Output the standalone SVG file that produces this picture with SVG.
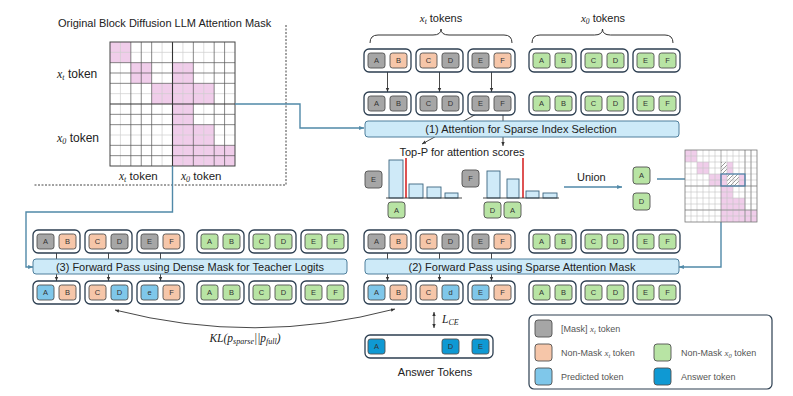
<svg xmlns="http://www.w3.org/2000/svg" width="793" height="396" viewBox="0 0 793 396">
<style>
text{font-family:"Liberation Sans",Arial,sans-serif;fill:#222}
.tt{font-size:7.5px;text-anchor:middle;fill:#333}
.grp{fill:#fff;stroke:#2c3e50;stroke-width:1.3}
.tk{stroke:#505050;stroke-width:0.9}
.g{fill:#a6a6a6}.s{fill:#f6c6a9}.n{fill:#b8e4a4}.p{fill:#7fc7ea}.a{fill:#0f99d3}
.box{fill:#cdeaf8;stroke:#4e7f9c;stroke-width:1}
.bt{font-size:11px;text-anchor:middle;fill:#222}
.con{fill:none;stroke:#5089a8;stroke-width:1.4}
.ar{fill:none;stroke:#333;stroke-width:0.9}
.bar{fill:#cfeaf8;stroke:#3d6680;stroke-width:0.9}
.red{stroke:#d62728;stroke-width:1.6}
.lg{font-size:9px;fill:#555}
.m{font-family:"Liberation Serif","Times New Roman",serif;font-style:italic}
.pk{fill:#f0cdea}
.gl{stroke:#cfcfcf;stroke-width:0.7}
.gd{stroke:#555;stroke-width:0.7}
</style>
<defs>
<marker id="ah" viewBox="0 0 6 6" refX="6" refY="3" markerWidth="4.5" markerHeight="4.5" orient="auto-start-reverse"><path d="M0,0.5 L6,3 L0,5.5 z" fill="#333"/></marker>
<marker id="ahb" viewBox="0 0 6 6" refX="6" refY="3" markerWidth="3.5" markerHeight="3.5" orient="auto-start-reverse"><path d="M0,0.5 L6,3 L0,5.5 z" fill="#5089a8"/></marker>
<pattern id="hatch" patternUnits="userSpaceOnUse" width="4" height="4"><rect width="4" height="4" fill="#fff"/><path d="M-1,1 L1,-1 M0,4 L4,0 M3,5 L5,3" stroke="#555" stroke-width="0.6"/></pattern>
</defs>

<!-- Original mask -->
<g id="orig-mask">
<text x="58" y="27" style="font-size:11px">Original Block Diffusion LLM Attention Mask</text>
<path d="M286,25 V185 H33" fill="none" stroke="#444" stroke-width="1" stroke-dasharray="2,1.5"/>
<rect x="110" y="42" width="125" height="124" fill="#fff"/>
<rect class="pk" x="110" y="42" width="20.83" height="20.67"/>
<rect class="pk" x="130.83" y="62.67" width="20.83" height="20.67"/>
<rect class="pk" x="172.5" y="62.67" width="20.83" height="20.67"/>
<rect class="pk" x="151.67" y="83.33" width="62.5" height="20.67"/>
<rect class="pk" x="172.5" y="104" width="20.83" height="20.67"/>
<rect class="pk" x="172.5" y="124.67" width="41.67" height="20.67"/>
<rect class="pk" x="172.5" y="145.33" width="62.5" height="20.67"/>
<g class="gl">
<line x1="120.42" y1="42" x2="120.42" y2="166"/><line x1="162.08" y1="42" x2="162.08" y2="166"/><line x1="182.92" y1="42" x2="182.92" y2="166"/><line x1="203.75" y1="42" x2="203.75" y2="166"/>
<line x1="110" y1="52.33" x2="235" y2="52.33"/><line x1="110" y1="93.67" x2="235" y2="93.67"/><line x1="110" y1="135" x2="235" y2="135"/>
</g>
<g class="gd">
<line x1="130.83" y1="42" x2="130.83" y2="166"/><line x1="141.25" y1="42" x2="141.25" y2="166"/><line x1="151.67" y1="42" x2="151.67" y2="166"/><line x1="193.33" y1="42" x2="193.33" y2="166"/><line x1="214.17" y1="42" x2="214.17" y2="166"/><line x1="224.58" y1="42" x2="224.58" y2="166"/>
<line x1="110" y1="62.67" x2="235" y2="62.67"/><line x1="110" y1="73" x2="235" y2="73"/><line x1="110" y1="83.33" x2="235" y2="83.33"/><line x1="110" y1="114.33" x2="235" y2="114.33"/><line x1="110" y1="124.67" x2="235" y2="124.67"/><line x1="110" y1="145.33" x2="235" y2="145.33"/><line x1="110" y1="155.67" x2="235" y2="155.67"/>
</g>
<line x1="172.5" y1="42" x2="172.5" y2="166" stroke="#333" stroke-width="1.1"/>
<line x1="110" y1="104" x2="235" y2="104" stroke="#333" stroke-width="1.1"/>
<rect x="110" y="42" width="125" height="124" fill="none" stroke="#444" stroke-width="1"/>
<text x="57" y="78" style="font-size:12px"><tspan class="m">x</tspan><tspan dy="2" style="font-size:8px" class="m">t</tspan><tspan dy="-2"> token</tspan></text>
<text x="57" y="142" style="font-size:12px"><tspan class="m">x</tspan><tspan dy="2" style="font-size:8px" class="m">0</tspan><tspan dy="-2"> token</tspan></text>
<text x="119" y="180" style="font-size:11.5px"><tspan class="m">x</tspan><tspan dy="2" style="font-size:8px" class="m">t</tspan><tspan dy="-2"> token</tspan></text>
<text x="181" y="180" style="font-size:11.5px"><tspan class="m">x</tspan><tspan dy="2" style="font-size:8px" class="m">0</tspan><tspan dy="-2"> token</tspan></text>
</g>

<!-- Connectors -->
<g id="connectors">
<path class="con" d="M235,104 H300 V128 H364" marker-end="url(#ahb)"/>
<path class="con" d="M172.5,166 V212 H26 V267 H33" marker-end="url(#ahb)"/>
<path class="con" d="M721,222 V267 H679" marker-end="url(#ahb)"/>
<path class="con" d="M657,179 H720" marker-end="url(#ahb)"/>
<path class="con" d="M564,187 H622" marker-end="url(#ahb)"/>
<g class="ar">
<line x1="387.5" y1="72" x2="387.5" y2="92" marker-end="url(#ah)"/>
<line x1="439.5" y1="72" x2="439.5" y2="92" marker-end="url(#ah)"/>
<line x1="491.5" y1="72" x2="491.5" y2="92" marker-end="url(#ah)"/>
<line x1="480" y1="112" x2="422" y2="144" marker-end="url(#ah)"/>
<line x1="503" y1="115" x2="503" y2="146" marker-end="url(#ah)"/>
<line x1="56.5" y1="253" x2="56.5" y2="281" marker-end="url(#ah)"/>
<line x1="108.5" y1="253" x2="108.5" y2="281" marker-end="url(#ah)"/>
<line x1="160.5" y1="253" x2="160.5" y2="281" marker-end="url(#ah)"/>
<line x1="387.5" y1="253" x2="387.5" y2="281" marker-end="url(#ah)"/>
<line x1="439.5" y1="253" x2="439.5" y2="281" marker-end="url(#ah)"/>
<line x1="491.5" y1="253" x2="491.5" y2="281" marker-end="url(#ah)"/>
<line x1="434" y1="312" x2="434" y2="328" marker-start="url(#ah)" marker-end="url(#ah)"/>
<path d="M115,310 Q255,346 395,309" marker-start="url(#ah)" marker-end="url(#ah)"/>
</g>
</g>

<!-- Braces and headers -->
<g id="xt-header">
<text x="441" y="22" text-anchor="middle" style="font-size:11px"><tspan class="m">x</tspan><tspan dy="2" style="font-size:7.5px" class="m">t</tspan><tspan dy="-2"> tokens</tspan></text>
<path d="M370,43 Q370,35 378,35 H433 Q441,35 441,29 Q441,35 449,35 H504 Q512,35 512,43" fill="none" stroke="#333" stroke-width="1"/>
</g>
<g id="x0-header">
<text x="603" y="22" text-anchor="middle" style="font-size:11px"><tspan class="m">x</tspan><tspan dy="2" style="font-size:7.5px" class="m">0</tspan><tspan dy="-2"> tokens</tspan></text>
<path d="M532,43 Q532,35 540,35 H594.5 Q602.5,35 602.5,29 Q602.5,35 610.5,35 H665 Q673,35 673,43" fill="none" stroke="#333" stroke-width="1"/>
</g>

<!-- Top row 1 -->
<g id="t1-1"><rect class="grp" x="364" y="49" width="47" height="23" rx="5"/><rect class="tk g" x="368" y="53" width="17" height="15" rx="2.5"/><text class="tt" x="376.5" y="63">A</text><rect class="tk s" x="390" y="53" width="17" height="15" rx="2.5"/><text class="tt" x="398.5" y="63">B</text></g>
<g id="t1-2"><rect class="grp" x="416" y="49" width="47" height="23" rx="5"/><rect class="tk s" x="420" y="53" width="17" height="15" rx="2.5"/><text class="tt" x="428.5" y="63">C</text><rect class="tk g" x="442" y="53" width="17" height="15" rx="2.5"/><text class="tt" x="450.5" y="63">D</text></g>
<g id="t1-3"><rect class="grp" x="468" y="49" width="47" height="23" rx="5"/><rect class="tk g" x="472" y="53" width="17" height="15" rx="2.5"/><text class="tt" x="480.5" y="63">E</text><rect class="tk s" x="494" y="53" width="17" height="15" rx="2.5"/><text class="tt" x="502.5" y="63">F</text></g>
<g id="t1-4"><rect class="grp" x="529" y="49" width="47" height="23" rx="5"/><rect class="tk n" x="533" y="53" width="17" height="15" rx="2.5"/><text class="tt" x="541.5" y="63">A</text><rect class="tk n" x="555" y="53" width="17" height="15" rx="2.5"/><text class="tt" x="563.5" y="63">B</text></g>
<g id="t1-5"><rect class="grp" x="581" y="49" width="47" height="23" rx="5"/><rect class="tk n" x="585" y="53" width="17" height="15" rx="2.5"/><text class="tt" x="593.5" y="63">C</text><rect class="tk n" x="607" y="53" width="17" height="15" rx="2.5"/><text class="tt" x="615.5" y="63">D</text></g>
<g id="t1-6"><rect class="grp" x="633" y="49" width="47" height="23" rx="5"/><rect class="tk n" x="637" y="53" width="17" height="15" rx="2.5"/><text class="tt" x="645.5" y="63">E</text><rect class="tk n" x="659" y="53" width="17" height="15" rx="2.5"/><text class="tt" x="667.5" y="63">F</text></g>

<!-- Top row 2 -->
<g id="t2-1"><rect class="grp" x="364" y="92" width="47" height="23" rx="5"/><rect class="tk g" x="368" y="96" width="17" height="15" rx="2.5"/><text class="tt" x="376.5" y="106">A</text><rect class="tk g" x="390" y="96" width="17" height="15" rx="2.5"/><text class="tt" x="398.5" y="106">B</text></g>
<g id="t2-2"><rect class="grp" x="416" y="92" width="47" height="23" rx="5"/><rect class="tk g" x="420" y="96" width="17" height="15" rx="2.5"/><text class="tt" x="428.5" y="106">C</text><rect class="tk g" x="442" y="96" width="17" height="15" rx="2.5"/><text class="tt" x="450.5" y="106">D</text></g>
<g id="t2-3"><rect class="grp" x="468" y="92" width="47" height="23" rx="5"/><rect class="tk g" x="472" y="96" width="17" height="15" rx="2.5"/><text class="tt" x="480.5" y="106">E</text><rect class="tk g" x="494" y="96" width="17" height="15" rx="2.5"/><text class="tt" x="502.5" y="106">F</text></g>
<g id="t2-4"><rect class="grp" x="529" y="92" width="47" height="23" rx="5"/><rect class="tk n" x="533" y="96" width="17" height="15" rx="2.5"/><text class="tt" x="541.5" y="106">A</text><rect class="tk n" x="555" y="96" width="17" height="15" rx="2.5"/><text class="tt" x="563.5" y="106">B</text></g>
<g id="t2-5"><rect class="grp" x="581" y="92" width="47" height="23" rx="5"/><rect class="tk n" x="585" y="96" width="17" height="15" rx="2.5"/><text class="tt" x="593.5" y="106">C</text><rect class="tk n" x="607" y="96" width="17" height="15" rx="2.5"/><text class="tt" x="615.5" y="106">D</text></g>
<g id="t2-6"><rect class="grp" x="633" y="92" width="47" height="23" rx="5"/><rect class="tk n" x="637" y="96" width="17" height="15" rx="2.5"/><text class="tt" x="645.5" y="106">E</text><rect class="tk n" x="659" y="96" width="17" height="15" rx="2.5"/><text class="tt" x="667.5" y="106">F</text></g>

<!-- Step 1 box -->
<g id="step1"><rect class="box" x="365" y="121" width="314" height="16" rx="3"/><text class="bt" x="521" y="133">(1) Attention for Sparse Index Selection</text></g>

<!-- Top-P -->
<g id="topp">
<text x="462" y="156" text-anchor="middle" style="font-size:11px">Top-P for attention scores</text>
<rect class="tk g" x="365" y="171" width="17" height="17" rx="3"/><text class="tt" x="373.5" y="182">E</text>
<rect class="bar" x="389" y="160" width="14" height="38"/>
<rect class="bar" x="409" y="184" width="14" height="14"/>
<rect class="bar" x="427" y="187" width="14" height="11"/>
<rect class="bar" x="445" y="193" width="13" height="5"/>
<line class="red" x1="406" y1="158" x2="406" y2="198"/>
<line x1="386" y1="198" x2="462" y2="198" stroke="#333" stroke-width="0.9"/>
<rect class="tk n" x="388" y="202" width="17" height="16" rx="3"/><text class="tt" x="396.5" y="212.5">A</text>
<rect class="tk g" x="462" y="170" width="17" height="17" rx="3"/><text class="tt" x="470.5" y="181">F</text>
<rect class="bar" x="487" y="171" width="13" height="27"/>
<rect class="bar" x="507" y="179" width="12" height="19"/>
<rect class="bar" x="526" y="191" width="13" height="7"/>
<rect class="bar" x="543" y="193" width="14" height="5"/>
<line class="red" x1="523" y1="158" x2="523" y2="198"/>
<line x1="483" y1="198" x2="559" y2="198" stroke="#333" stroke-width="0.9"/>
<rect class="tk n" x="484" y="202" width="17" height="16" rx="3"/><text class="tt" x="492.5" y="212.5">D</text>
<rect class="tk n" x="504" y="202" width="17" height="16" rx="3"/><text class="tt" x="512.5" y="212.5">A</text>
</g>
<g id="union">
<text x="577" y="181" style="font-size:11px">Union</text>
<rect class="tk n" x="633" y="167" width="17" height="17" rx="3"/><text class="tt" x="641.5" y="178">A</text>
<rect class="tk n" x="633" y="193" width="17" height="17" rx="3"/><text class="tt" x="641.5" y="204">D</text>
</g>

<!-- Sparse mask -->
<g id="sparse-mask">
<rect x="685" y="150" width="72" height="72" fill="#fff"/>
<rect class="pk" x="685" y="150" width="12" height="12"/>
<rect class="pk" x="697" y="162" width="12" height="12"/>
<rect x="721" y="162" width="6" height="12" fill="url(#hatch)"/>
<rect class="pk" x="727" y="162" width="6" height="12"/>
<rect class="pk" x="709" y="174" width="12" height="12"/>
<rect class="pk" x="721" y="174" width="6" height="12"/>
<rect x="727" y="174" width="12" height="12" fill="url(#hatch)"/>
<rect class="pk" x="739" y="174" width="6" height="12"/>
<rect class="pk" x="721" y="186" width="12" height="12"/>
<rect class="pk" x="721" y="198" width="24" height="12"/>
<rect class="pk" x="721" y="210" width="36" height="12"/>
<g stroke="#c4c4c4" stroke-width="0.6">
<path d="M691,150V222M697,150V222M703,150V222M709,150V222M715,150V222M727,150V222M733,150V222M739,150V222M745,150V222M751,150V222"/>
<path d="M685,156H757M685,162H757M685,168H757M685,174H757M685,180H757M685,186H757M685,192H757M685,198H757M685,204H757M685,210H757M685,216H757"/>
</g>
<g stroke="#777" stroke-width="0.6">
<path d="M721,150V222M745,150V222M751,150V222M685,186H757M685,210H757"/>
</g>
<rect x="685" y="150" width="72" height="72" fill="none" stroke="#777" stroke-width="0.8"/>
<rect x="721" y="174" width="24" height="12" fill="none" stroke="#4a7fa8" stroke-width="1.2"/>
</g>

<!-- Bottom-left rows -->
<g id="bl1-1"><rect class="grp" x="33" y="230" width="47" height="23" rx="5"/><rect class="tk g" x="37" y="234" width="17" height="15" rx="2.5"/><text class="tt" x="45.5" y="244">A</text><rect class="tk s" x="59" y="234" width="17" height="15" rx="2.5"/><text class="tt" x="67.5" y="244">B</text></g>
<g id="bl1-2"><rect class="grp" x="85" y="230" width="47" height="23" rx="5"/><rect class="tk s" x="89" y="234" width="17" height="15" rx="2.5"/><text class="tt" x="97.5" y="244">C</text><rect class="tk g" x="111" y="234" width="17" height="15" rx="2.5"/><text class="tt" x="119.5" y="244">D</text></g>
<g id="bl1-3"><rect class="grp" x="137" y="230" width="47" height="23" rx="5"/><rect class="tk g" x="141" y="234" width="17" height="15" rx="2.5"/><text class="tt" x="149.5" y="244">E</text><rect class="tk s" x="163" y="234" width="17" height="15" rx="2.5"/><text class="tt" x="171.5" y="244">F</text></g>
<g id="bl1-4"><rect class="grp" x="197" y="230" width="47" height="23" rx="5"/><rect class="tk n" x="201" y="234" width="17" height="15" rx="2.5"/><text class="tt" x="209.5" y="244">A</text><rect class="tk n" x="223" y="234" width="17" height="15" rx="2.5"/><text class="tt" x="231.5" y="244">B</text></g>
<g id="bl1-5"><rect class="grp" x="249" y="230" width="47" height="23" rx="5"/><rect class="tk n" x="253" y="234" width="17" height="15" rx="2.5"/><text class="tt" x="261.5" y="244">C</text><rect class="tk n" x="275" y="234" width="17" height="15" rx="2.5"/><text class="tt" x="283.5" y="244">D</text></g>
<g id="bl1-6"><rect class="grp" x="301" y="230" width="47" height="23" rx="5"/><rect class="tk n" x="305" y="234" width="17" height="15" rx="2.5"/><text class="tt" x="313.5" y="244">E</text><rect class="tk n" x="327" y="234" width="17" height="15" rx="2.5"/><text class="tt" x="335.5" y="244">F</text></g>

<g id="step3"><rect class="box" x="33" y="259" width="314" height="15" rx="3"/><text class="bt" x="190" y="270.5">(3) Forward Pass using Dense Mask for Teacher Logits</text></g>

<g id="bl2-1"><rect class="grp" x="33" y="281" width="47" height="23" rx="5"/><rect class="tk p" x="37" y="285" width="17" height="15" rx="2.5"/><text class="tt" x="45.5" y="295">A</text><rect class="tk s" x="59" y="285" width="17" height="15" rx="2.5"/><text class="tt" x="67.5" y="295">B</text></g>
<g id="bl2-2"><rect class="grp" x="85" y="281" width="47" height="23" rx="5"/><rect class="tk s" x="89" y="285" width="17" height="15" rx="2.5"/><text class="tt" x="97.5" y="295">C</text><rect class="tk p" x="111" y="285" width="17" height="15" rx="2.5"/><text class="tt" x="119.5" y="295">D</text></g>
<g id="bl2-3"><rect class="grp" x="137" y="281" width="47" height="23" rx="5"/><rect class="tk p" x="141" y="285" width="17" height="15" rx="2.5"/><text class="tt" x="149.5" y="295">e</text><rect class="tk s" x="163" y="285" width="17" height="15" rx="2.5"/><text class="tt" x="171.5" y="295">F</text></g>
<g id="bl2-4"><rect class="grp" x="197" y="281" width="47" height="23" rx="5"/><rect class="tk n" x="201" y="285" width="17" height="15" rx="2.5"/><text class="tt" x="209.5" y="295">A</text><rect class="tk n" x="223" y="285" width="17" height="15" rx="2.5"/><text class="tt" x="231.5" y="295">B</text></g>
<g id="bl2-5"><rect class="grp" x="249" y="281" width="47" height="23" rx="5"/><rect class="tk n" x="253" y="285" width="17" height="15" rx="2.5"/><text class="tt" x="261.5" y="295">C</text><rect class="tk n" x="275" y="285" width="17" height="15" rx="2.5"/><text class="tt" x="283.5" y="295">D</text></g>
<g id="bl2-6"><rect class="grp" x="301" y="281" width="47" height="23" rx="5"/><rect class="tk n" x="305" y="285" width="17" height="15" rx="2.5"/><text class="tt" x="313.5" y="295">E</text><rect class="tk n" x="327" y="285" width="17" height="15" rx="2.5"/><text class="tt" x="335.5" y="295">F</text></g>

<!-- Bottom-right rows -->
<g id="br1-1"><rect class="grp" x="364" y="230" width="47" height="23" rx="5"/><rect class="tk g" x="368" y="234" width="17" height="15" rx="2.5"/><text class="tt" x="376.5" y="244">A</text><rect class="tk s" x="390" y="234" width="17" height="15" rx="2.5"/><text class="tt" x="398.5" y="244">B</text></g>
<g id="br1-2"><rect class="grp" x="416" y="230" width="47" height="23" rx="5"/><rect class="tk s" x="420" y="234" width="17" height="15" rx="2.5"/><text class="tt" x="428.5" y="244">C</text><rect class="tk g" x="442" y="234" width="17" height="15" rx="2.5"/><text class="tt" x="450.5" y="244">D</text></g>
<g id="br1-3"><rect class="grp" x="468" y="230" width="47" height="23" rx="5"/><rect class="tk g" x="472" y="234" width="17" height="15" rx="2.5"/><text class="tt" x="480.5" y="244">E</text><rect class="tk s" x="494" y="234" width="17" height="15" rx="2.5"/><text class="tt" x="502.5" y="244">F</text></g>
<g id="br1-4"><rect class="grp" x="529" y="230" width="47" height="23" rx="5"/><rect class="tk n" x="533" y="234" width="17" height="15" rx="2.5"/><text class="tt" x="541.5" y="244">A</text><rect class="tk n" x="555" y="234" width="17" height="15" rx="2.5"/><text class="tt" x="563.5" y="244">B</text></g>
<g id="br1-5"><rect class="grp" x="581" y="230" width="47" height="23" rx="5"/><rect class="tk n" x="585" y="234" width="17" height="15" rx="2.5"/><text class="tt" x="593.5" y="244">C</text><rect class="tk n" x="607" y="234" width="17" height="15" rx="2.5"/><text class="tt" x="615.5" y="244">D</text></g>
<g id="br1-6"><rect class="grp" x="633" y="230" width="47" height="23" rx="5"/><rect class="tk n" x="637" y="234" width="17" height="15" rx="2.5"/><text class="tt" x="645.5" y="244">E</text><rect class="tk n" x="659" y="234" width="17" height="15" rx="2.5"/><text class="tt" x="667.5" y="244">F</text></g>

<g id="step2"><rect class="box" x="365" y="259" width="314" height="15" rx="3"/><text class="bt" x="522" y="270.5">(2) Forward Pass using Sparse Attention Mask</text></g>

<g id="br2-1"><rect class="grp" x="364" y="281" width="47" height="23" rx="5"/><rect class="tk p" x="368" y="285" width="17" height="15" rx="2.5"/><text class="tt" x="376.5" y="295">A</text><rect class="tk s" x="390" y="285" width="17" height="15" rx="2.5"/><text class="tt" x="398.5" y="295">B</text></g>
<g id="br2-2"><rect class="grp" x="416" y="281" width="47" height="23" rx="5"/><rect class="tk s" x="420" y="285" width="17" height="15" rx="2.5"/><text class="tt" x="428.5" y="295">C</text><rect class="tk p" x="442" y="285" width="17" height="15" rx="2.5"/><text class="tt" x="450.5" y="295">d</text></g>
<g id="br2-3"><rect class="grp" x="468" y="281" width="47" height="23" rx="5"/><rect class="tk p" x="472" y="285" width="17" height="15" rx="2.5"/><text class="tt" x="480.5" y="295">E</text><rect class="tk s" x="494" y="285" width="17" height="15" rx="2.5"/><text class="tt" x="502.5" y="295">F</text></g>
<g id="br2-4"><rect class="grp" x="529" y="281" width="47" height="23" rx="5"/><rect class="tk n" x="533" y="285" width="17" height="15" rx="2.5"/><text class="tt" x="541.5" y="295">A</text><rect class="tk n" x="555" y="285" width="17" height="15" rx="2.5"/><text class="tt" x="563.5" y="295">B</text></g>
<g id="br2-5"><rect class="grp" x="581" y="281" width="47" height="23" rx="5"/><rect class="tk n" x="585" y="285" width="17" height="15" rx="2.5"/><text class="tt" x="593.5" y="295">C</text><rect class="tk n" x="607" y="285" width="17" height="15" rx="2.5"/><text class="tt" x="615.5" y="295">D</text></g>
<g id="br2-6"><rect class="grp" x="633" y="281" width="47" height="23" rx="5"/><rect class="tk n" x="637" y="285" width="17" height="15" rx="2.5"/><text class="tt" x="645.5" y="295">E</text><rect class="tk n" x="659" y="285" width="17" height="15" rx="2.5"/><text class="tt" x="667.5" y="295">F</text></g>

<!-- Loss labels -->
<g id="kl-label"><text x="245" y="342" text-anchor="middle" class="m" style="font-size:11.5px">KL(p<tspan dy="2" style="font-size:8px">sparse</tspan><tspan dy="-2">||p</tspan><tspan dy="2" style="font-size:8px">full</tspan><tspan dy="-2">)</tspan></text></g>
<g id="lce-label"><text x="442" y="323" class="m" style="font-size:11.5px">L<tspan dy="2" style="font-size:8px">CE</tspan></text></g>

<!-- Answer tokens -->
<g id="answer">
<rect class="grp" x="365" y="335" width="128" height="23" rx="5"/>
<rect class="tk a" x="368" y="339" width="17" height="15" rx="2.5"/><text class="tt" x="376.5" y="349">A</text>
<rect class="tk a" x="442" y="339" width="17" height="15" rx="2.5"/><text class="tt" x="450.5" y="349">D</text>
<rect class="tk a" x="472" y="339" width="17" height="15" rx="2.5"/><text class="tt" x="480.5" y="349">E</text>
<text x="435" y="376" text-anchor="middle" style="font-size:11px">Answer Tokens</text>
</g>

<!-- Legend -->
<g id="legend">
<rect x="529" y="315" width="243" height="74" rx="5" fill="#fff" stroke="#2c3e50" stroke-width="1.2"/>
<rect class="tk g" x="535" y="320" width="17" height="17" rx="3"/>
<text class="lg" x="561" y="332">[Mask] <tspan class="m">x</tspan><tspan dy="1.5" style="font-size:6.5px" class="m">t</tspan><tspan dy="-1.5"> token</tspan></text>
<rect class="tk s" x="535" y="344" width="17" height="17" rx="3"/>
<text class="lg" x="561" y="356">Non-Mask <tspan class="m">x</tspan><tspan dy="1.5" style="font-size:6.5px" class="m">t</tspan><tspan dy="-1.5"> token</tspan></text>
<rect class="tk p" x="535" y="368" width="17" height="17" rx="3"/>
<text class="lg" x="561" y="380">Predicted token</text>
<rect class="tk n" x="654" y="344" width="17" height="17" rx="3"/>
<text class="lg" x="681" y="356">Non-Mask <tspan class="m">x</tspan><tspan dy="1.5" style="font-size:6.5px" class="m">0</tspan><tspan dy="-1.5"> token</tspan></text>
<rect class="tk a" x="654" y="368" width="17" height="17" rx="3"/>
<text class="lg" x="681" y="380">Answer token</text>
</g>
</svg>
